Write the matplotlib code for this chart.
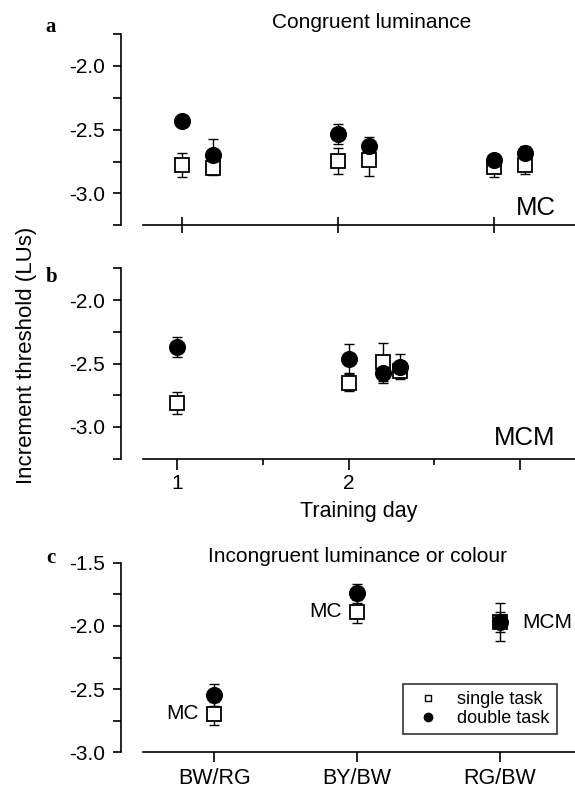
import numpy as np
import matplotlib.pyplot as plt
from matplotlib.ticker import MultipleLocator, FixedLocator

plt.rcParams['font.family'] = ['Liberation Sans', 'DejaVu Sans']

# panel a: congruent luminance, MC
a_day_single = [1.0, 1.2, 2.0, 2.2, 3.0, 3.2]
a_single = [-2.78, -2.80, -2.745, -2.74, -2.79, -2.775]
a_single_err = [0.095, 0.055, 0.105, 0.125, 0.08, 0.075]
a_day_double = [1.0, 1.2, 2.0, 2.2, 3.0, 3.2]
a_double = [-2.436, -2.70, -2.535, -2.63, -2.74, -2.685]
a_double_err = [0.03, 0.13, 0.08, 0.07, 0.03, 0.06]

# panel b: congruent luminance, MCM
b_day = [1.0, 2.0, 2.2, 2.3]
b_single = [-2.81, -2.65, -2.485, -2.56]
b_single_err = [0.085, 0.067, 0.15, 0.05]
b_double = [-2.371, -2.463, -2.572, -2.524]
b_double_err = [0.08, 0.115, 0.08, 0.10]

# panel c: incongruent luminance or colour
c_cats = ['BW/RG', 'BY/BW', 'RG/BW']
c_single = [-2.695, -1.887, -1.97]
c_single_err = [0.09, 0.09, 0.15]
c_double = [-2.547, -1.742, -1.971]
c_double_err = [0.09, 0.075, 0.08]
c_tags = ['MC', 'MC', 'MCM']

W, H = 575, 789
fig = plt.figure(figsize=(W / 100, H / 100), dpi=100)


def box(x0, x1, ytop, ybot):
    return [x0 / W, 1 - ybot / H, (x1 - x0) / W, (ybot - ytop) / H]


def fx(x, y):
    # pixel position (from top left) -> figure fraction
    return x / W, 1 - y / H


def style_axis(ax):
    for s in ['top', 'right']:
        ax.spines[s].set_visible(False)
    ax.spines['left'].set_position(('outward', 16))
    ax.spines['left'].set_linewidth(1.2)
    ax.spines['bottom'].set_linewidth(1.2)
    ax.tick_params(axis='y', which='both', direction='out', length=6, width=1.2,
                   labelsize=15, pad=5.5)
    ax.yaxis.set_major_locator(FixedLocator([-3.0, -2.5, -2.0, -1.5]))
    ax.yaxis.set_minor_locator(MultipleLocator(0.25))
    ax.yaxis.set_major_formatter(plt.FuncFormatter(lambda v, p: '%.1f' % v))


def draw_points(ax, xs, ys, es, marker, face, ms):
    ax.errorbar(xs, ys, yerr=es, fmt='none', ecolor='black', elinewidth=1,
                capsize=3.5, capthick=1, zorder=2)
    ax.plot(xs, ys, linestyle='none', marker=marker, markersize=ms,
            markerfacecolor=face, markeredgecolor='black', markeredgewidth=1.3, zorder=3)


# ---- panel a
ax_a = fig.add_axes(box(143, 575, 34, 225.3))
style_axis(ax_a)
ax_a.set_ylim(-3.25, -1.75)
ax_a.set_xlim(0.748, 3.52)
draw_points(ax_a, a_day_single, a_single, a_single_err, 's', 'white', 9.5)
draw_points(ax_a, a_day_double, a_double, a_double_err, 'o', 'black', 11)
ax_a.xaxis.set_major_locator(FixedLocator([1, 2, 3]))
ax_a.tick_params(axis='x', which='major', direction='inout', length=12, width=1.2, labelbottom=False)
fig.text(*fx(372, 22), 'Congruent luminance', fontsize=15, ha='center', va='center')
ax_a.text(0.955, 0.09, 'MC', transform=ax_a.transAxes, ha='right', va='center', fontsize=18.5)

# ---- panel b
ax_b = fig.add_axes(box(143, 575, 268.3, 458.7))
style_axis(ax_b)
ax_b.set_ylim(-3.25, -1.75)
ax_b.set_xlim(0.8, 3.32)
draw_points(ax_b, b_day, b_single, b_single_err, 's', 'white', 9.5)
draw_points(ax_b, b_day, b_double, b_double_err, 'o', 'black', 11)
ax_b.xaxis.set_major_locator(FixedLocator([1, 2, 3]))
ax_b.xaxis.set_minor_locator(FixedLocator([1.5, 2.5]))
ax_b.xaxis.set_major_formatter(plt.FuncFormatter(lambda v, p: '%d' % v if v < 3 else ''))
ax_b.tick_params(axis='x', which='major', direction='out', length=8, width=1.2, labelsize=15, pad=3)
ax_b.tick_params(axis='x', which='minor', direction='out', length=4, width=1.2)
ax_b.set_xlabel('Training day', fontsize=15.5, labelpad=6)
ax_b.text(0.955, 0.11, 'MCM', transform=ax_b.transAxes, ha='right', va='center', fontsize=18.5)

# ---- panel c
ax_c = fig.add_axes(box(143, 575, 562.7, 752.3))
style_axis(ax_c)
ax_c.set_ylim(-3.0, -1.5)
ax_c.set_xlim(-0.5, 2.525)
xc = np.arange(len(c_cats))
draw_points(ax_c, xc, c_single, c_single_err, 's', 'white', 9.5)
draw_points(ax_c, xc, c_double, c_double_err, 'o', 'black', 11)
ax_c.set_xticks(xc)
ax_c.set_xticklabels(c_cats)
ax_c.tick_params(axis='x', direction='out', length=7, width=1.2, labelsize=15.5, pad=4)
fig.text(*fx(358, 556), 'Incongruent luminance or colour', fontsize=15, ha='center', va='center')
for i, tag in enumerate(c_tags):
    if tag == 'MC':
        ax_c.annotate(tag, (xc[i], c_single[i]), xytext=(-11, 0), textcoords='offset points',
                      ha='right', va='center', fontsize=15)
    else:
        ax_c.annotate(tag, (xc[i], c_double[i]), xytext=(16, 0), textcoords='offset points',
                      ha='left', va='center', fontsize=15)

h1 = ax_c.plot([], [], 's', markersize=4.5, markerfacecolor='white', markeredgecolor='black',
               markeredgewidth=1, linestyle='none', label='single task')[0]
h2 = ax_c.plot([], [], 'o', markersize=6, color='black', linestyle='none', label='double task')[0]
leg = ax_c.legend(handles=[h1, h2], loc='lower right', bbox_to_anchor=(0.958, 0.095),
                  fontsize=13, frameon=True, fancybox=False, borderpad=0.4,
                  handlelength=2.0, handletextpad=0.6, labelspacing=0.1, borderaxespad=0)
leg.get_frame().set_edgecolor('black')
leg.get_frame().set_linewidth(1.2)

# panel letters and shared y label
for letter, (x, y) in zip('abc', [(50.7, 26.7), (51.7, 276.7), (50.7, 558.3)]):
    fig.text(*fx(x, y), letter, fontsize=15, fontweight='bold', family='Liberation Serif',
             ha='center', va='center')
fig.text(*fx(27, 355), 'Increment threshold (LUs)', rotation=90, ha='center', va='center',
         fontsize=16)

fig.savefig('out.png', dpi=100)
